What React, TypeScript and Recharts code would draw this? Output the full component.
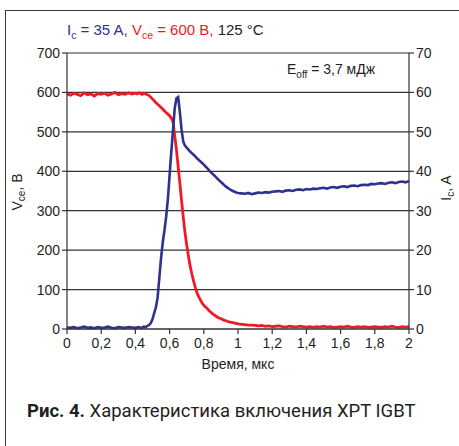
import React from 'react';
import { LineChart, Line, XAxis, YAxis, CartesianGrid } from 'recharts';

// time, µs
const time = [
  0, 0.02, 0.04, 0.06, 0.08, 0.1, 0.12, 0.14, 0.16, 0.18, 0.2, 0.22, 0.24, 0.26, 0.28, 0.3, 0.32, 0.34, 0.36, 0.38, 0.4,
  0.41, 0.42, 0.43, 0.44, 0.45, 0.46, 0.47, 0.48, 0.49, 0.5, 0.51, 0.52, 0.53, 0.54, 0.55, 0.56, 0.57, 0.58, 0.59, 0.6,
  0.61, 0.62, 0.63, 0.64, 0.65, 0.66, 0.67, 0.68, 0.69, 0.7, 0.71, 0.72, 0.73, 0.74, 0.75, 0.76, 0.77, 0.78, 0.79, 0.8,
  0.81, 0.82, 0.83, 0.84, 0.85, 0.86, 0.87, 0.88, 0.89, 0.9, 0.91, 0.92, 0.93, 0.94, 0.95, 0.96, 0.97, 0.98, 0.99, 1,
  1.02, 1.04, 1.06, 1.08, 1.1, 1.12, 1.14, 1.16, 1.18, 1.2, 1.22, 1.24, 1.26, 1.28, 1.3, 1.32, 1.34, 1.36, 1.38, 1.4,
  1.42, 1.44, 1.46, 1.48, 1.5, 1.52, 1.54, 1.56, 1.58, 1.6, 1.62, 1.64, 1.66, 1.68, 1.7, 1.72, 1.74, 1.76, 1.78, 1.8,
  1.82, 1.84, 1.86, 1.88, 1.9, 1.92, 1.94, 1.96, 1.98, 2,
];

// Vce, V (left axis)
const vce = [
  597, 593, 598, 595, 592, 599, 594, 596, 591, 597, 595, 598, 593, 596, 600, 594, 597, 595, 599, 596, 598,
  596, 599, 597, 595, 598, 596, 594, 592, 588, 583, 579, 574, 570, 566, 562, 558, 553, 549, 545, 541,
  535, 526, 490, 455, 412, 370, 325, 283, 245, 213, 186, 160, 140, 122, 106, 92, 82, 74, 66, 60,
  56, 52, 47, 43, 39, 36, 33, 30, 28, 26, 24, 22, 21, 19, 18, 17, 16, 15, 14, 13,
  12, 11, 10, 10, 9, 8, 9, 7, 8, 6, 7, 8, 6, 5, 7, 6, 5, 7, 6, 5,
  6, 4, 6, 5, 7, 5, 6, 4, 5, 6, 5, 7, 5, 4, 6, 5, 6, 4, 5, 6,
  5, 4, 6, 5, 7, 5, 4, 6, 5, 6,
];

// Ic, A (right axis)
const ic = [
  0.4, 0.3, 0.5, 0.2, 0.4, 0.6, 0.3, 0.4, 0.2, 0.5, 0.3, 0.4, 0.6, 0.3, 0.2, 0.5, 0.4, 0.3, 0.5, 0.4, 0.3,
  0.4, 0.5, 0.3, 0.4, 0.6, 0.5, 0.8, 1.0, 1.5, 2.5, 4.0, 5.5, 8, 13, 18, 22, 25, 28.5, 33, 39,
  45, 50.5, 56, 58.5, 58.8, 55, 50.5, 47.5, 46.5, 46, 45.5, 45, 44.6, 44.2, 43.8, 43.3, 42.9, 42.5, 42.1, 41.7,
  41.2, 40.8, 40.3, 39.8, 39.4, 39, 38.6, 38.1, 37.7, 37.3, 36.9, 36.5, 36.1, 35.8, 35.5, 35.2, 35, 34.8, 34.6, 34.5,
  34.4, 34.3, 34.5, 34.2, 34.4, 34.6, 34.5, 34.7, 34.6, 34.8, 34.9, 35, 34.8, 35.1, 35.2, 35, 35.3, 35.4, 35.2, 35.5,
  35.4, 35.6, 35.5, 35.7, 35.8, 35.6, 35.9, 36, 35.8, 36.1, 36.2, 36, 36.3, 36.4, 36.2, 36.5, 36.6, 36.5, 36.8, 36.7,
  36.9, 37, 36.8, 37.1, 37.2, 37, 37.3, 37.4, 37.2, 37.5,
];

const xTicks = [0, 0.2, 0.4, 0.6, 0.8, 1, 1.2, 1.4, 1.6, 1.8, 2];
const vTicks = [0, 100, 200, 300, 400, 500, 600, 700];
const iTicks = [0, 10, 20, 30, 40, 50, 60, 70];

const BLUE = '#2e3192';
const RED = '#ed1c24';
const INK = '#231f20';
const FONT = '"Liberation Sans", Arial, sans-serif';

const data = time.map((t, i) => ({ t, vce: vce[i], ic: ic[i] }));

const tickStyle = { fill: INK, fontSize: 14, fontFamily: FONT };
const comma = (v: number) => String(v).replace('.', ',');

export default function App() {
  return (
    <div style={{ position: 'absolute', left: 0, top: 0, width: 459, height: 446, background: '#fff', overflow: 'hidden' }}>
      {/* outer frame: left and top edges only */}
      <div
        style={{
          position: 'absolute',
          left: 5,
          top: 10,
          width: 460,
          height: 440,
          borderLeft: '1.5px solid #3a3a3a',
          borderTop: '1.5px solid #3a3a3a',
        }}
      />

      <LineChart
        width={459}
        height={446}
        data={data}
        margin={{ top: 53, right: 20, bottom: 97, left: 27 }}
        style={{ position: 'absolute', left: 0, top: 0 }}
      >
        <CartesianGrid yAxisId="v" vertical={false} stroke="#333" strokeWidth={1.2} />
        <XAxis
          dataKey="t"
          type="number"
          domain={[0, 2]}
          ticks={xTicks}
          tickFormatter={comma}
          tick={tickStyle}
          tickSize={5}
          tickMargin={4}
          height={20}
          stroke="#333"
          strokeWidth={1.2}
        />
        <YAxis
          yAxisId="v"
          orientation="left"
          domain={[0, 700]}
          ticks={vTicks}
          tick={tickStyle}
          tickSize={5}
          width={40}
          stroke="#333"
          strokeWidth={1.2}
        />
        <YAxis
          yAxisId="i"
          orientation="right"
          domain={[0, 70]}
          ticks={iTicks}
          tick={tickStyle}
          tickSize={5}
          width={30}
          stroke="#333"
          strokeWidth={1.2}
        />
        <Line
          yAxisId="v"
          dataKey="vce"
          stroke={RED}
          strokeWidth={2.8}
          dot={false}
          isAnimationActive={false}
        />
        <Line
          yAxisId="i"
          dataKey="ic"
          stroke={BLUE}
          strokeWidth={2.6}
          dot={false}
          isAnimationActive={false}
        />
      </LineChart>

      {/* heading */}
      <div style={{ position: 'absolute', left: 67, top: 21, fontFamily: FONT, fontSize: 15, whiteSpace: 'nowrap', color: INK }}>
        <span style={{ color: BLUE }}>
          I<sub style={{ fontSize: 10.5 }}>c</sub> = 35 A,{' '}
        </span>
        <span style={{ color: RED }}>
          V<sub style={{ fontSize: 10.5 }}>ce</sub> = 600 B,{' '}
        </span>
        <span>125 °C</span>
      </div>

      {/* energy annotation */}
      <div style={{ position: 'absolute', left: 287, top: 61, fontFamily: FONT, fontSize: 14, whiteSpace: 'nowrap', color: INK }}>
        E<sub style={{ fontSize: 10 }}>off</sub> = 3,7 мДж
      </div>

      {/* left axis title */}
      <div
        style={{
          position: 'absolute',
          left: 18,
          top: 192,
          transform: 'translate(-50%, -50%) rotate(-90deg)',
          fontFamily: FONT,
          fontSize: 14,
          whiteSpace: 'nowrap',
          color: INK,
        }}
      >
        V<sub style={{ fontSize: 10 }}>ce</sub>, B
      </div>

      {/* right axis title */}
      <div
        style={{
          position: 'absolute',
          left: 447,
          top: 188,
          transform: 'translate(-50%, -50%) rotate(-90deg)',
          fontFamily: FONT,
          fontSize: 14,
          whiteSpace: 'nowrap',
          color: INK,
        }}
      >
        I<sub style={{ fontSize: 10 }}>c</sub>, A
      </div>

      {/* x axis title */}
      <div style={{ position: 'absolute', left: 238, top: 356, transform: 'translateX(-50%)', fontFamily: FONT, fontSize: 14, whiteSpace: 'nowrap', color: INK }}>
        Время, мкс
      </div>

      {/* caption */}
      <div style={{ position: 'absolute', left: 27, top: 400, fontFamily: 'Roboto, sans-serif', fontSize: 18.5, whiteSpace: 'nowrap', color: INK }}>
        <b>Рис. 4.</b> Характеристика включения XPT IGBT
      </div>
    </div>
  );
}
